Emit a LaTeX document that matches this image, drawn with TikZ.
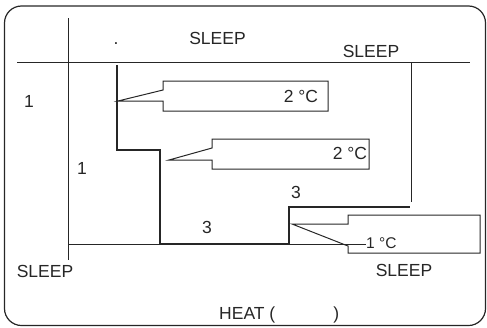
\documentclass[tikz,border=0pt]{standalone}
\usepackage{fontspec}
\setmainfont{Liberation Sans}
\begin{document}
\begin{tikzpicture}[x=1pt,y=-1pt,
  thinline/.style={line width=1pt,draw=black!85},
  thickline/.style={line width=2pt,draw=black!85},
  frameline/.style={line width=1.2pt,draw=black!85},
  lbl/.style={inner sep=0pt,anchor=base,font=\fontsize{17.5}{20}\selectfont,text=black!85},
  smalllbl/.style={inner sep=0pt,anchor=base west,font=\fontsize{15.5}{18}\selectfont,text=black!85}]
\useasboundingbox (0,0) rectangle (487,327);
% outer frame
\draw[frameline,rounded corners=17pt] (4.5,6) rectangle (485.5,325.5);
% axes
\coordinate (ht0) at (17,62);
\coordinate (ht1) at (470,62);
\coordinate (vl0) at (68,18);
\coordinate (vl1) at (68,260);
\coordinate (vr0) at (411,62);
\coordinate (vr1) at (411,202);
\draw[thinline] (ht0) -- (ht1);
\draw[thinline] (vl0) -- (vl1);
\draw[thinline] (vr0) -- (vr1);
\coordinate (b0) at (68,244);
\coordinate (b1) at (160,244);
\draw[thinline] (b0) -- (b1);
% thick temperature profile
\draw[thickline,line join=miter] (117,65) -- (117,150) -- (160,150) -- (160,244) -- (289,244) -- (289,207) -- (410,207);
\coordinate (lead0) at (289,244);
\coordinate (lead1) at (366,244);
\draw[thinline] (lead0) -- (lead1);
% callout 1
\draw[thinline] (118,101) -- (163,90) -- (163,81) -- (328,81) -- (328,111) -- (163,111) -- (163,101) -- cycle;
% callout 2
\draw[thinline] (169,160) -- (212,148) -- (212,139) -- (369,139) -- (369,169) -- (212,169) -- (212,160) -- cycle;
% callout 3
\draw[thinline] (292,224) -- (348,224) -- (348,215) -- (480,215) -- (480,253) -- (348,253) -- (348,246) -- cycle;
% labels
\node[lbl] (dot) at (116,44) {.};
\node[lbl] (sleepA) at (217.5,44) {SLEEP};
\node[lbl] (sleepB) at (371,57.5) {SLEEP};
\node[lbl] (oneA) at (29,107) {1};
\node[lbl] (oneB) at (82,174) {1};
\node[lbl] (tA) at (301,102) {2 °C};
\node[lbl] (tB) at (350,159) {2 °C};
\node[lbl] (threeA) at (207,233) {3};
\node[lbl] (threeB) at (296,198.5) {3};
\node[smalllbl] (tC) at (366,248) {1 °C};
\node[lbl] (sleepC) at (45,277) {SLEEP};
\node[lbl] (sleepD) at (404,276) {SLEEP};
\node[lbl,anchor=base west] (heat) at (219,319) {HEAT (\hspace{58pt})};
\end{tikzpicture}
\end{document}
